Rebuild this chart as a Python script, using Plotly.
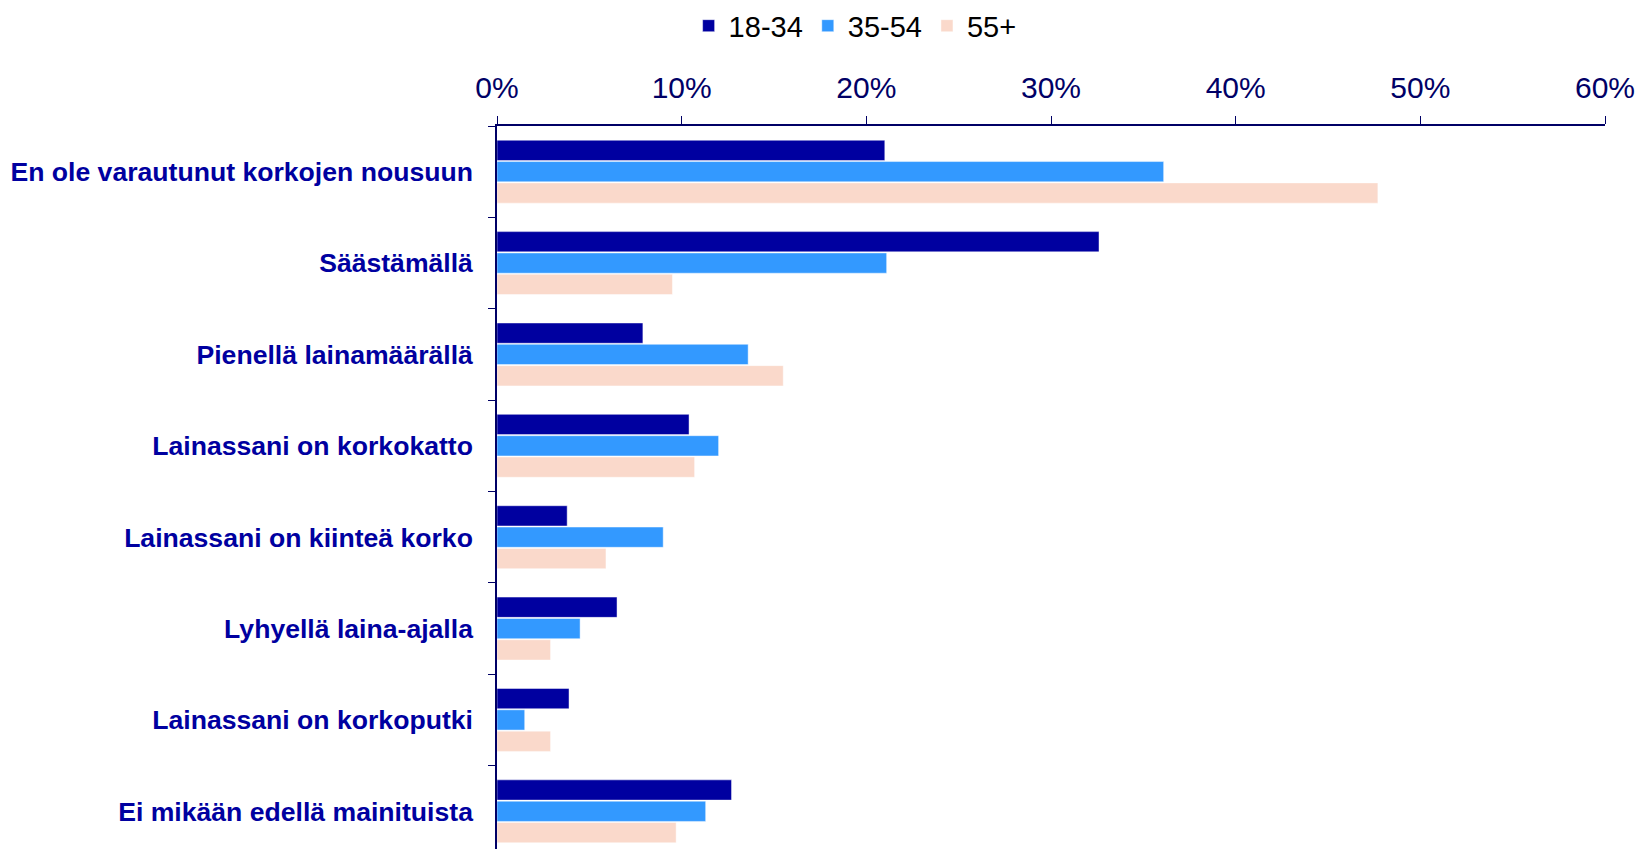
import plotly.graph_objects as go

categories = [
    "En ole varautunut korkojen nousuun",
    "Säästämällä",
    "Pienellä lainamäärällä",
    "Lainassani on korkokatto",
    "Lainassani on kiinteä korko",
    "Lyhyellä laina-ajalla",
    "Lainassani on korkoputki",
    "Ei mikään edellä mainituista",
]
series_names = ["18-34", "35-54", "55+"]
v_18_34 = [21.0, 32.6, 7.9, 10.4, 3.8, 6.5, 3.9, 12.7]
v_35_54 = [36.1, 21.1, 13.6, 12.0, 9.0, 4.5, 1.5, 11.3]
v_55 = [47.7, 9.5, 15.5, 10.7, 5.9, 2.9, 2.9, 9.7]
tick_values = [0, 10, 20, 30, 40, 50, 60]
tick_labels = ["0%", "10%", "20%", "30%", "40%", "50%", "60%"]

colors = ["#0000A0", "#3399FF", "#FAD9CB"]
FONT = "Liberation Sans, Arial, sans-serif"

fig = go.Figure()
for name, vals, col in zip(series_names, [v_18_34, v_35_54, v_55], colors):
    fig.add_trace(go.Bar(
        y=categories, x=vals, name=name, orientation="h",
        marker=dict(color=col, line=dict(color="rgba(255,255,255,0.45)", width=1)),
    ))

fig.update_layout(
    width=1652, height=849,
    paper_bgcolor="white", plot_bgcolor="white",
    margin=dict(l=489, r=55, t=118, b=0, autoexpand=False),
    barmode="group", bargap=0.3, bargroupgap=0.05,
    font=dict(family=FONT),
    showlegend=True,
    legend=dict(
        orientation="h", xref="container", yref="container",
        x=0.412, xanchor="left", y=0.979, yanchor="middle",
        font=dict(size=29, color="black", family=FONT),
        itemclick=False, borderwidth=0,
    ),
    xaxis=dict(
        side="top", range=[0, 60], tickvals=tick_values, ticktext=tick_labels,
        showgrid=False, zeroline=False,
        showline=True, linecolor="#000066", linewidth=1.5,
        ticks="outside", ticklen=8, tickcolor="#000066", tickwidth=1,
        tickfont=dict(size=30, color="#000066", family=FONT),
        ticklabelstandoff=6,
    ),
    yaxis=dict(
        autorange="reversed", type="category",
        showgrid=False, zeroline=False,
        showline=True, linecolor="#000066", linewidth=1.5,
        ticks="outside", ticklen=7, tickcolor="#000066", tickson="boundaries",
        tickfont=dict(size=26.6, color="#0000A0", family=FONT, weight="bold"),
        ticklabelstandoff=17,
    ),
)

fig.write_html("out.html")
